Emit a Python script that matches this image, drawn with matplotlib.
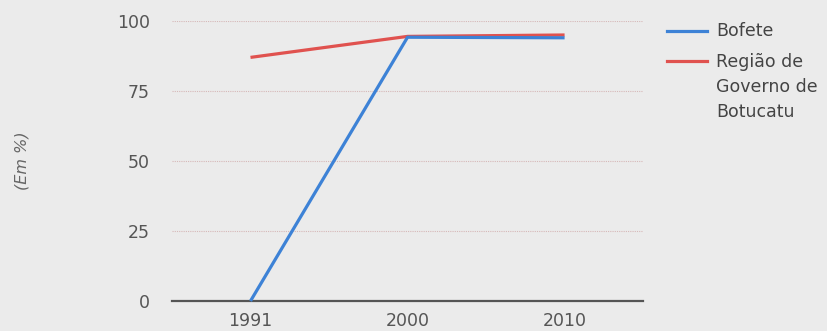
import matplotlib
matplotlib.use("Agg")
import matplotlib.pyplot as plt
from matplotlib.lines import Line2D

# Data
years = ["1991", "2000", "2010"]
bofete = [0.0, 94.2, 94.0]
regiao = [87.0, 94.5, 95.0]
y_ticks = [0, 25, 50, 75, 100]
series_names = ["Bofete", "Região de\nGoverno de\nBotucatu"]

plt.rcParams["font.family"] = ["DejaVu Sans"]

bg = "#ebebeb"
fig = plt.figure(figsize=(8.28, 3.31), dpi=100, facecolor=bg)
ax = fig.add_axes([0.2077, 0.0906, 0.569, 0.846], facecolor=bg)

x = list(range(len(years)))
blue = "#3d82d6"
red = "#e0524f"
ax.plot(x, regiao, color=red, lw=2.3, solid_capstyle="butt", zorder=3, clip_on=False)
ax.plot(x, bofete, color=blue, lw=2.3, solid_capstyle="butt", zorder=4, clip_on=False)

ax.set_xlim(-0.5, 2.5)
ax.set_ylim(0, 100)
ax.set_xticks(x)
ax.set_xticklabels(years)
ax.set_yticks(y_ticks)
ax.set_yticklabels([str(v) for v in y_ticks])
ax.tick_params(axis="both", length=0, labelsize=12.5, labelcolor="#555555")
ax.tick_params(axis="y", pad=16)
ax.tick_params(axis="x", pad=8)

for s in ["left", "right", "top"]:
    ax.spines[s].set_visible(False)
ax.spines["bottom"].set_color("#555555")
ax.spines["bottom"].set_linewidth(1.6)

for v in y_ticks[1:]:
    ax.axhline(v, color="#d6b8b8", lw=0.8, ls=(0, (1, 1)), zorder=1)

ax.set_ylabel("(Em %)", fontsize=11.5, style="italic", color="#666666", labelpad=0)
ax.yaxis.set_label_coords(-0.303, 0.5)

# Legend drawn in figure coordinates
W, H = 828.0, 331.0
def fx(px):
    return px / W
def fy(py):
    return 1 - py / H

for py, col in [(31, blue), (61, red)]:
    fig.add_artist(Line2D([fx(667), fx(707)], [fy(py), fy(py)], color=col, lw=2.3,
                          transform=fig.transFigure))
label_lines = [series_names[0]] + series_names[1].split("\n")
for py, txt in zip([31, 62, 87, 112], label_lines):
    fig.text(fx(716), fy(py), txt, fontsize=12.5, color="#444444", va="center")

fig.savefig("out.png", dpi=100, facecolor=bg)
